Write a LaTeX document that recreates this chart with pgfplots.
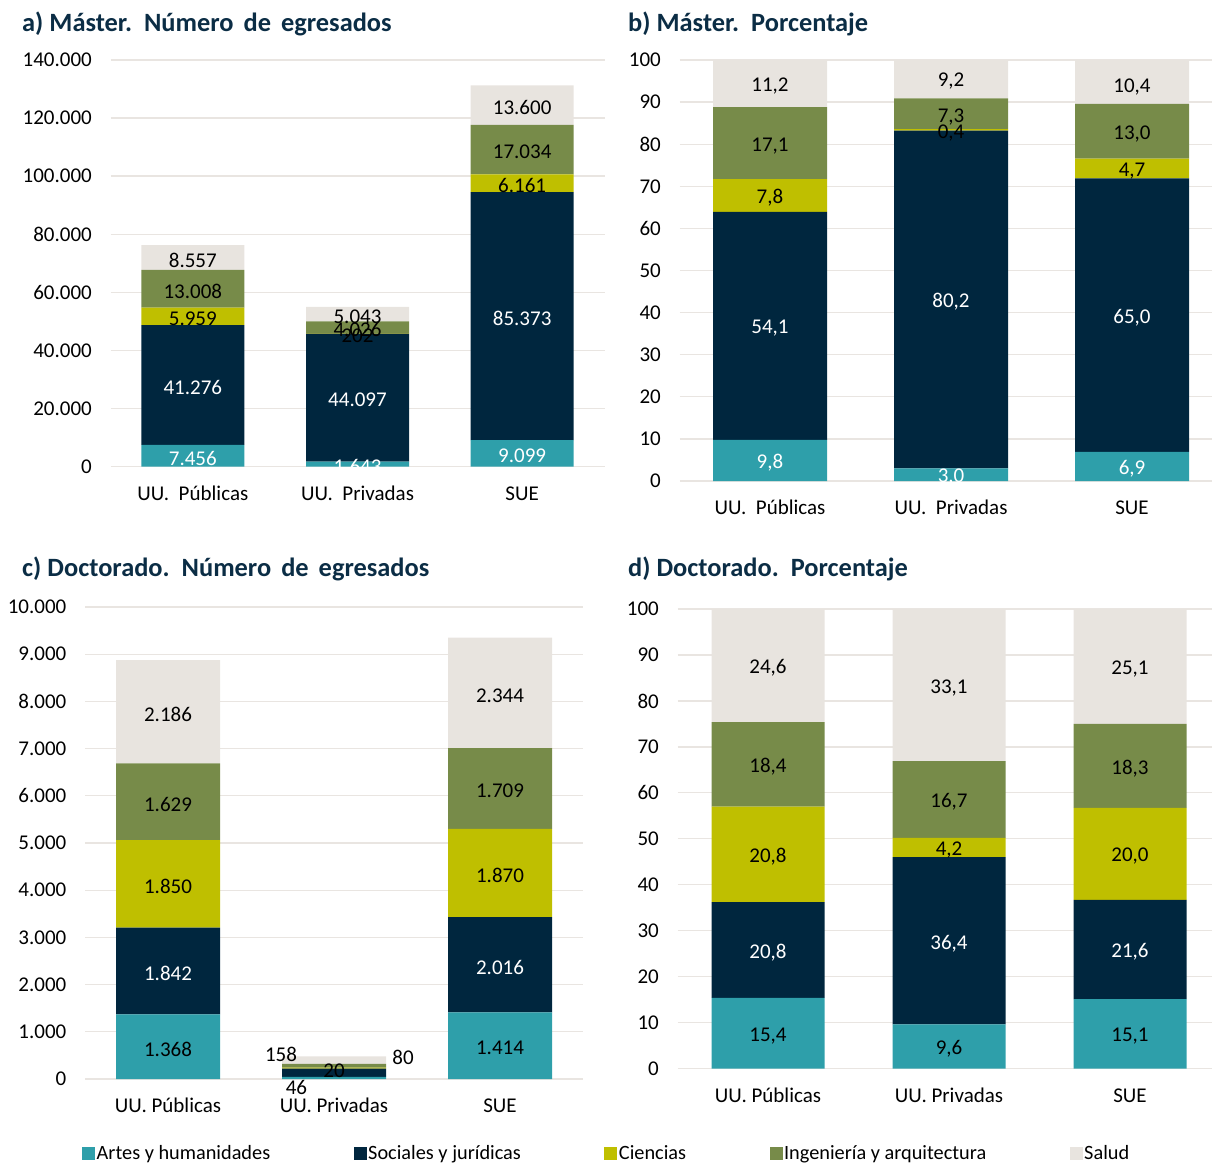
\documentclass[border=0pt]{standalone}
\usepackage{pgfplots}
\pgfplotsset{compat=1.18}
\usepackage{fontspec}
\setmainfont{Carlito}
\definecolor{cArt}{HTML}{2E9FAA}
\definecolor{cSoc}{HTML}{00263E}
\definecolor{cCie}{HTML}{BFBF00}
\definecolor{cIng}{HTML}{778B49}
\definecolor{cSal}{HTML}{E8E4DF}
\definecolor{cTit}{HTML}{0B2D45}
\definecolor{cGrid}{HTML}{E9E5E1}
\newcommand{\lab}{\fontsize{21}{25}\selectfont}
\newcommand{\leg}{\fontsize{20.3}{24}\selectfont}
\newcommand{\tit}{\fontsize{26.4}{31}\selectfont\bfseries\spaceskip=10pt plus 2pt\relax}
\pgfplotsset{
  base/.style={scale only axis, anchor=south west, xmin=-0.5, ymin=0,
    axis line style={draw=none}, major tick length=0pt, tick style={draw=none},
    ymajorgrids, major grid style={draw=cGrid, line width=1.3pt},
    xtick={0,1,2}, tick label style={font=\lab, text=black},
    yticklabel style={anchor=east, inner sep=0pt, xshift=-18.5pt},
    xticklabel style={anchor=base, inner sep=0pt, yshift=-33.5pt},
    /pgf/number format/fixed,
    /pgf/number format/1000 sep={.},
    /pgf/number format/assume math mode=true,
    scaled y ticks=false},
  bars/.style={base, ybar stacked, bar width=#1},
  labs/.style={base, hide axis},
  sq/.style={legend image code/.code={\fill[##1] (0pt,-6.5pt) rectangle (13pt,6.5pt);}},
  lbl/.style={draw=none, mark=none, nodes near coords, point meta=explicit symbolic,
    nodes near coords align=center,
    nodes near coords style={anchor=center, inner sep=0pt, font=\lab, text=#1, yshift=-2.5pt}},
}
\begin{document}
\begin{tikzpicture}
\path[use as bounding box] (0,0) rectangle (1212pt,-1165pt);
% titles
\node[anchor=base west, inner sep=0pt, text=cTit, font=\tit] at (22pt,-31pt) {a)\hspace{6pt}Máster. Número de egresados};
\node[anchor=base west, inner sep=0pt, text=cTit, font=\tit] at (628pt,-31pt) {b)\hspace{6pt}Máster. Porcentaje};
\node[anchor=base west, inner sep=0pt, text=cTit, font=\tit] at (22pt,-576pt) {c)\hspace{6pt}Doctorado. Número de egresados};
\node[anchor=base west, inner sep=0pt, text=cTit, font=\tit] at (628pt,-576pt) {d)\hspace{6pt}Doctorado. Porcentaje};

% ---------- Panel a ----------
\begin{axis}[bars=103pt, at={(110.5pt,-466.5pt)}, width=494pt, height=406.5pt,
  xmax=2.5, ymax=140000, ytick={0,20000,...,140000},
  xticklabels={UU.~~Públicas,UU.~~Privadas,SUE}]
\addplot[fill=cArt, draw=none] coordinates {(0,7456) (1,1643) (2,9099)};
\addplot[fill=cSoc, draw=none] coordinates {(0,41276) (1,44097) (2,85373)};
\addplot[fill=cCie, draw=none] coordinates {(0,5959) (1,202) (2,6161)};
\addplot[fill=cIng, draw=none] coordinates {(0,13008) (1,4026) (2,17034)};
\addplot[fill=cSal, draw=none] coordinates {(0,8557) (1,5043) (2,13600)};
\end{axis}
\begin{axis}[labs, at={(110.5pt,-466.5pt)}, width=494pt, height=406.5pt, xmax=2.5, ymax=140000]
\addplot[lbl=white] table[meta=l] {
x y l
0 3728 7.456
1 822 1.643
2 4550 9.099
0 28094 41.276
1 23692 44.097
2 51786 85.373
};
\addplot[lbl=black] table[meta=l] {
x y l
0 51712 5.959
1 45841 202
2 97553 6.161
0 61195 13.008
1 47955 4.026
2 109150 17.034
0 71978 8.557
1 52490 5.043
2 124467 13.600
};
\end{axis}

% ---------- Panel b ----------
\begin{axis}[bars=114pt, at={(679.5pt,-481pt)}, width=532.5pt, height=421pt,
  xmax=2.442, ymax=100, ytick={0,10,...,100},
  xticklabels={UU.~~Públicas,UU.~~Privadas,SUE}]
\addplot[fill=cArt, draw=none] coordinates {(0,9.8) (1,3.0) (2,6.9)};
\addplot[fill=cSoc, draw=none] coordinates {(0,54.1) (1,80.2) (2,65.0)};
\addplot[fill=cCie, draw=none] coordinates {(0,7.8) (1,0.4) (2,4.7)};
\addplot[fill=cIng, draw=none] coordinates {(0,17.1) (1,7.3) (2,13.0)};
\addplot[fill=cSal, draw=none] coordinates {(0,11.2) (1,9.2) (2,10.4)};
\end{axis}
\begin{axis}[labs, at={(679.5pt,-481pt)}, width=532.5pt, height=421pt, xmax=2.442, ymax=100]
\addplot[lbl=white] table[meta=l] {
x y l
0 4.9 9,8
1 1.5 3,0
2 3.45 6,9
0 36.85 54,1
1 43.1 80,2
2 39.4 65,0
};
\addplot[lbl=black] table[meta=l] {
x y l
0 67.8 7,8
1 83.2 0,4
2 74.25 4,7
0 80.25 17,1
1 87.0 7,3
2 83.1 13,0
0 94.4 11,2
1 95.5 9,2
2 94.2 10,4
};
\end{axis}

% ---------- Panel c ----------
\begin{axis}[bars=104pt, at={(85pt,-1079pt)}, width=498pt, height=472pt,
  xmax=2.5, ymax=10000, ytick={0,1000,...,10000},
  xticklabels={UU. Públicas,UU. Privadas,SUE},
  legend style={at={(-0.006,-0.1568)}, anchor=west, draw=none, fill=none,
    inner sep=0pt, font=\leg, nodes={inner sep=1.5pt},
    /tikz/every even column/.append style={column sep=82pt}},
  legend columns=5, legend cell align=left]
\addplot[sq, fill=cArt, draw=none] coordinates {(0,1368) (1,46) (2,1414)};
\addplot[sq, fill=cSoc, draw=none] coordinates {(0,1842) (1,174) (2,2016)};
\addplot[sq, fill=cCie, draw=none] coordinates {(0,1850) (1,20) (2,1870)};
\addplot[sq, fill=cIng, draw=none] coordinates {(0,1629) (1,80) (2,1709)};
\addplot[sq, fill=cSal, draw=none] coordinates {(0,2186) (1,158) (2,2344)};
\legend{Artes y humanidades, Sociales y jurídicas, Ciencias, Ingeniería y arquitectura, Salud}
\end{axis}
\begin{axis}[labs, at={(85pt,-1079pt)}, width=498pt, height=472pt, xmax=2.5, ymax=10000, clip=false]
\addplot[lbl=white] table[meta=l] {
x y l
0 2289 1.842
2 2422 2.016
};
\addplot[lbl=black] table[meta=l] {
x y l
0 684 1.368
2 707 1.414
0 4135 1.850
2 4365 1.870
0 5874 1.629
2 6154 1.709
0 7782 2.186
2 8181 2.344
0.681 583 158
1.416 508 80
1.0 233 20
0.774 -127 46
};
\end{axis}

% ---------- Panel d ----------
\begin{axis}[bars=113pt, at={(677.5pt,-1068.5pt)}, width=534.5pt, height=459.5pt,
  xmax=2.453, ymax=100, ytick={0,10,...,100},
  xticklabels={UU. Públicas,UU. Privadas,SUE}]
\addplot[fill=cArt, draw=none] coordinates {(0,15.4) (1,9.6) (2,15.1)};
\addplot[fill=cSoc, draw=none] coordinates {(0,20.8) (1,36.4) (2,21.6)};
\addplot[fill=cCie, draw=none] coordinates {(0,20.8) (1,4.2) (2,20.0)};
\addplot[fill=cIng, draw=none] coordinates {(0,18.4) (1,16.7) (2,18.3)};
\addplot[fill=cSal, draw=none] coordinates {(0,24.6) (1,33.1) (2,25.1)};
\end{axis}
\begin{axis}[labs, at={(677.5pt,-1068.5pt)}, width=534.5pt, height=459.5pt, xmax=2.453, ymax=100]
\addplot[lbl=white] table[meta=l] {
x y l
0 25.8 20,8
1 27.8 36,4
2 25.9 21,6
};
\addplot[lbl=black] table[meta=l] {
x y l
0 7.7 15,4
1 4.8 9,6
2 7.55 15,1
0 46.6 20,8
1 48.1 4,2
2 46.7 20,0
0 66.2 18,4
1 58.55 16,7
2 65.85 18,3
0 87.7 24,6
1 83.45 33,1
2 87.55 25,1
};
\end{axis}
\end{tikzpicture}
\end{document}
